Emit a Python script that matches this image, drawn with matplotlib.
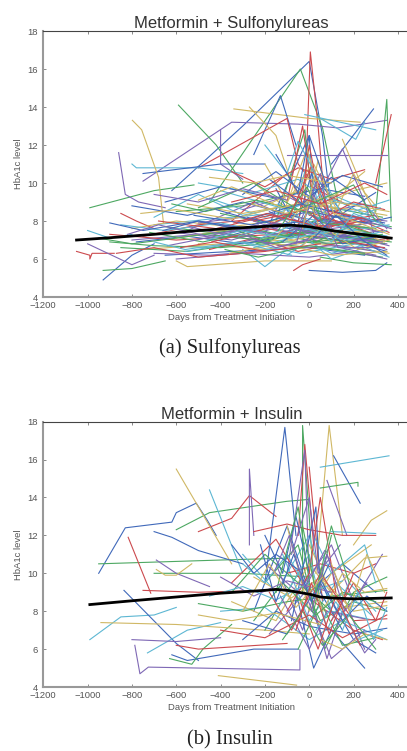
import matplotlib
matplotlib.use("Agg")
import matplotlib.pyplot as plt

# colours of the per-patient lines (seaborn-like palette)
line_colors = ['#4069BA', '#4DA862', '#CC4A4E', '#7F68B5', '#D0B865', '#5DB7D3']

# mean trend lines ------------------------------------------
su_mean_days = [-1050, -900, -700, -500, -300, -150, -80, 0, 100, 200, 300, 370]
su_mean_a1c  = [7.0, 7.12, 7.3, 7.5, 7.65, 7.75, 7.78, 7.7, 7.5, 7.35, 7.2, 7.1]

in_mean_days = [-990, -800, -600, -400, -200, -150, -100, -50, 0, 50, 100, 200, 370]
in_mean_a1c  = [8.35, 8.55, 8.75, 8.95, 9.1, 9.15, 9.1, 9.0, 8.9, 8.75, 8.7, 8.65, 8.7]

# individual patient trajectories: (day, HbA1c) ------------
su_lines = [
    [(-620, 9.6), (-300, 13.0), (0, 16.4), (60, 12.5), (100, 8.5)],
    [(-450, 9.0), (-40, 16.0), (60, 12.9), (130, 9.0)],
    [(-20, 9.0), (5, 16.9), (40, 13.0), (80, 7.5)],
    [(-750, 10.1), (-350, 13.2), (-50, 13.1), (130, 12.9), (350, 13.3)],
    [(-340, 13.9), (0, 13.4), (230, 13.2)],
    [(-20, 13.6), (300, 12.8)],
    [(-250, 11.5), (-130, 14.6), (-60, 12.0)],
    [(-590, 14.1), (-420, 12.0), (-300, 10.0)],
    [(-500, 10.8), (-100, 13.4), (-50, 11.0), (50, 9.5)],
    [(-400, 12.8), (-400, 11.0), (-300, 10.2)],
    [(-270, 14.0), (-150, 12.5), (-80, 10.0)],
    [(50, 13.4), (210, 12.3), (250, 13.2)],
    [(100, 11.0), (290, 13.9)],
    [(300, 8.5), (350, 14.4), (370, 8.0)],
    [(300, 10.0), (370, 13.6)],
    [(-100, 11.5), (350, 11.5)],
    [(150, 12.3), (250, 9.5), (300, 8.8)],
    [(-800, 11.0), (-780, 10.8), (-500, 10.8), (-300, 10.5)],
    [(-750, 10.5), (-400, 11.0), (-200, 11.0)],
    [(-990, 8.7), (-700, 9.6), (-520, 9.9)],
    [(-850, 8.4), (-780, 8.0), (-700, 7.6)],
    [(-860, 11.6), (-830, 9.4), (-770, 9.0), (-650, 8.7)],
    [(-798, 13.3), (-756, 12.8), (-680, 10.3), (-658, 7.9)],
    [(-1000, 7.5), (-900, 7.1), (-800, 7.3)],
    [(-930, 4.9), (-800, 6.2), (-700, 6.8)],
    [(-930, 5.4), (-800, 5.5), (-650, 5.9)],
    [(-1050, 6.4), (-990, 6.2), (-990, 6.0), (-980, 6.3), (-880, 6.3)],
    [(-1000, 6.8), (-800, 5.7), (-700, 6.2)],
    [(-600, 5.9), (-550, 5.6), (-200, 5.9), (100, 5.9)],
    [(-300, 6.5), (-200, 5.6), (-100, 6.5)],
    [(0, 5.4), (150, 5.3), (300, 5.4), (350, 5.8)],
    [(50, 6.1), (200, 5.8), (370, 5.7)],
    [(-70, 5.4), (-30, 5.7), (50, 6.0)],
    [(-800, 7.0), (-500, 7.3), (-200, 7.6), (100, 7.2), (350, 6.8)],
    [(-750, 6.5), (-400, 6.8), (-100, 7.0), (200, 6.6), (360, 6.3)],
    [(-700, 7.8), (-450, 8.1), (-150, 8.4), (50, 8.0), (300, 7.6)],
    [(-650, 6.2), (-350, 6.4), (0, 6.6), (250, 6.2)],
    [(-600, 8.5), (-300, 8.8), (-50, 9.5), (100, 8.7), (330, 8.2)],
    [(-900, 7.3), (-600, 7.0), (-300, 7.2), (0, 7.4), (340, 7.0)],
    [(-550, 7.5), (-250, 9.0), (-50, 8.0), (150, 7.3), (350, 6.5)],
    [(-500, 6.8), (-200, 6.5), (50, 7.0), (280, 6.7)],
    [(-450, 9.2), (-200, 8.2), (0, 9.0), (200, 8.5), (360, 9.1)],
    [(-400, 7.1), (-150, 7.9), (30, 7.3), (320, 7.0)],
    [(-850, 6.6), (-550, 6.4), (-250, 6.9), (100, 6.5), (330, 6.1)],
    [(-350, 8.0), (-100, 10.5), (0, 8.3), (200, 7.8)],
    [(-300, 6.9), (-100, 7.4), (80, 6.8), (300, 6.4)],
    [(-250, 10.0), (-80, 8.5), (20, 11.0), (150, 8.0), (300, 7.5)],
    [(-700, 8.2), (-500, 9.4), (-300, 8.3), (-100, 8.8), (100, 7.9)],
    [(-200, 7.3), (0, 12.5), (30, 7.5), (250, 7.0)],
    [(-150, 8.0), (-20, 12.8), (20, 8.2), (200, 7.7)],
    [(-100, 9.0), (-30, 13.0), (10, 9.8), (180, 8.8)],
    [(-600, 6.0), (-300, 6.3), (0, 6.1), (200, 6.4), (350, 6.0)],
    [(-800, 7.6), (-600, 8.0), (-350, 7.7), (-100, 8.1), (150, 7.4)],
    [(-500, 10.0), (-250, 9.5), (-50, 10.2), (100, 9.0), (300, 8.8)],
    [(-650, 9.0), (-400, 9.8), (-150, 9.2), (50, 9.7), (250, 9.3)],
    [(-350, 7.6), (-150, 6.8), (50, 7.8), (200, 7.1), (370, 6.9)],
    [(-450, 6.5), (-250, 7.1), (-50, 6.4), (150, 6.9), (340, 6.6)],
    [(-300, 8.6), (-100, 9.3), (50, 8.4), (250, 8.9), (350, 7.6)],
    [(-200, 11.0), (-100, 9.0), (0, 10.8), (100, 9.2), (250, 10.6)],
    [(-100, 7.0), (0, 11.5), (50, 8.0), (200, 7.5), (350, 7.2)],
    [(-50, 8.0), (10, 10.5), (80, 8.6), (300, 8.0)],
    [(-400, 8.4), (-200, 7.9), (0, 8.7), (150, 8.1), (370, 7.7)],
    [(-750, 7.2), (-500, 7.8), (-250, 8.1), (0, 7.6), (200, 7.9)],
    [(-600, 7.4), (-350, 7.0), (-100, 7.8), (150, 7.2), (330, 7.5)],
    [(-550, 8.9), (-300, 8.4), (-50, 8.9), (200, 8.6), (350, 8.3)],
    [(-250, 6.6), (-50, 7.2), (100, 6.3), (300, 6.9)],
    [(-150, 9.7), (-50, 7.5), (50, 10.0), (150, 8.4), (300, 9.5)],
    [(-900, 6.9), (-700, 6.7), (-400, 6.6), (-100, 6.9), (200, 6.8)],
    [(-350, 10.6), (-200, 9.8), (-50, 10.8), (100, 10.2), (250, 10.7)],
    [(-500, 7.9), (-300, 8.2), (-100, 7.4), (100, 8.3), (350, 8.0)],
    [(-200, 8.8), (-50, 9.6), (50, 8.8), (200, 9.6), (350, 10.0)],
    [(-100, 6.2), (0, 7.0), (100, 6.0), (250, 6.6)],
    [(-300, 9.4), (-150, 10.6), (0, 9.3), (150, 10.4), (330, 9.8)],
    [(-650, 7.7), (-450, 7.4), (-200, 7.1), (50, 7.5), (300, 7.3)],
    [(-50, 7.8), (0, 12.0), (50, 9.0), (150, 7.5)],
    [(-700, 6.3), (-450, 6.2), (-150, 6.5), (100, 6.7), (300, 6.2)],
    [(-120, 8.3), (-10, 11.8), (60, 8.9), (200, 8.2)],
    [(-400, 9.6), (-100, 8.6), (100, 9.4), (300, 8.4)],
    [(-800, 8.8), (-550, 8.3), (-300, 9.0), (-50, 8.2)],
    [(-150, 7.2), (20, 8.0), (120, 7.0), (340, 6.8)],
    [(-250, 8.0), (-80, 8.4), (70, 7.6), (220, 8.1), (360, 7.4)],
    [(50, 9.5), (150, 11.8), (250, 9.0), (300, 7.0)],
    [(-30, 10.0), (100, 8.0), (200, 10.5), (330, 7.8)],
    [(-850, 7.8), (-650, 7.5), (-400, 7.9), (-150, 7.3), (100, 7.8), (350, 7.2)],
    [(-780, 6.9), (-550, 7.2), (-300, 6.8), (-50, 7.3), (200, 6.9), (350, 6.4)],
    [(-720, 7.4), (-480, 6.9), (-220, 7.5), (30, 6.9), (280, 7.3)],
    [(-680, 8.0), (-420, 7.6), (-180, 8.3), (70, 7.7), (320, 8.1)],
    [(-640, 6.7), (-380, 7.3), (-120, 6.7), (120, 7.4), (360, 6.7)],
    [(-600, 7.1), (-330, 7.6), (-70, 7.0), (170, 7.6), (340, 6.9)],
    [(-560, 6.4), (-300, 6.9), (-40, 6.3), (210, 6.8), (360, 6.1)],
    [(-520, 8.3), (-260, 7.8), (0, 8.5), (250, 7.9), (370, 8.2)],
    [(-480, 7.3), (-220, 7.0), (40, 7.6), (290, 7.1)],
    [(-440, 6.9), (-190, 7.6), (60, 7.1), (300, 6.7)],
    [(-400, 7.8), (-160, 7.3), (90, 8.0), (330, 7.4)],
    [(-360, 6.3), (-140, 6.8), (110, 6.2), (350, 6.4)],
    [(-320, 7.2), (-110, 8.1), (130, 7.4), (360, 7.8)],
    [(-280, 8.2), (-90, 7.6), (150, 8.3), (340, 7.9)],
    [(-240, 6.8), (-70, 7.3), (170, 6.9), (330, 7.3)],
    [(-210, 7.6), (-40, 8.6), (180, 7.8), (360, 7.0)],
    [(-180, 8.5), (-20, 7.4), (200, 8.2), (370, 7.6)],
    [(-160, 7.0), (0, 9.2), (60, 7.2), (250, 7.5)],
    [(-140, 8.9), (10, 7.8), (120, 9.1), (300, 8.1)],
    [(-120, 6.9), (20, 8.3), (150, 6.8), (310, 7.2)],
    [(-100, 7.9), (30, 6.9), (180, 7.7), (350, 7.1)],
    [(-80, 9.3), (40, 8.0), (200, 9.0), (340, 8.6)],
    [(-60, 7.4), (50, 10.5), (100, 7.6), (280, 7.9)],
    [(-40, 6.6), (60, 7.7), (220, 6.5), (360, 7.0)],
    [(-20, 8.4), (80, 9.9), (160, 8.0), (320, 8.7)],
    [(-900, 7.9), (-750, 7.5), (-500, 8.0), (-250, 7.4)],
    [(-950, 7.1), (-800, 6.8), (-600, 7.1), (-350, 7.5)],
    [(-870, 6.3), (-700, 6.6), (-500, 6.1), (-200, 6.4)],
    [(-820, 7.3), (-680, 7.8), (-460, 7.2), (-230, 7.8)],
    [(-760, 8.4), (-600, 8.6), (-350, 8.1), (-150, 8.7)],
    [(-700, 6.9), (-560, 6.5), (-320, 6.9), (-80, 6.2)],
    [(-660, 7.5), (-500, 8.0), (-280, 7.6), (-20, 8.0)],
    [(-620, 8.9), (-470, 8.5), (-240, 9.1), (10, 8.4)],
    [(-580, 6.6), (-430, 6.9), (-200, 6.4), (50, 6.8)],
    [(-540, 7.7), (-390, 7.3), (-160, 7.9), (90, 7.2)],
    [(-500, 9.1), (-350, 9.8), (-120, 8.7), (130, 9.4)],
    [(-460, 7.0), (-310, 7.5), (-80, 7.1), (170, 7.6)],
    [(-420, 8.6), (-270, 8.1), (-40, 8.9), (210, 8.2)],
    [(-380, 6.5), (-230, 6.1), (0, 6.7), (250, 6.3)],
    [(-340, 7.9), (-190, 8.4), (40, 7.7), (290, 8.3)],
    [(-300, 7.3), (-150, 6.6), (80, 7.2), (330, 6.9)],
    [(-260, 8.9), (-110, 8.4), (120, 9.0), (360, 8.5)],
    [(-220, 7.1), (-70, 7.8), (160, 7.0), (350, 7.5)],
    [(-180, 10.2), (-30, 8.9), (100, 10.3), (250, 9.1)],
    [(-140, 7.5), (-10, 9.8), (60, 7.9), (300, 7.6)],
    [(-90, 8.2), (10, 10.9), (90, 8.5), (260, 8.1)],
    [(-60, 6.8), (20, 9.4), (130, 6.6), (320, 6.6)],
    [(-30, 7.6), (40, 11.2), (110, 8.4), (360, 7.3)],
    [(0, 8.0), (100, 6.9), (200, 8.4), (360, 7.7)],
    [(20, 7.1), (120, 8.3), (240, 7.0), (350, 6.2)],
    [(-500, 8.7), (-250, 10.0), (-50, 8.6), (200, 9.9), (300, 8.0)],
    [(-350, 9.0), (-150, 9.6), (50, 8.9), (250, 10.0), (350, 9.4)],
    [(-700, 9.4), (-500, 9.0), (-300, 9.7), (-100, 9.1)],
    [(-450, 10.3), (-250, 10.0), (-100, 10.4), (100, 10.0)],
    [(-200, 12.0), (-100, 10.5), (-50, 12.2), (50, 10.0)],
    [(-150, 11.5), (-50, 9.5), (0, 12.5), (80, 9.8)],
]

in_lines = [
    [(-950, 10.0), (-830, 12.4), (-620, 12.7), (-600, 13.2), (-510, 13.7), (-460, 12.8), (-420, 12.0)],
    [(-950, 10.5), (-400, 10.7), (-100, 10.8)],
    [(-817, 11.9), (-715, 8.95)],
    [(-787, 6.2), (-764, 4.7), (-726, 5.05), (-42, 4.9), (-42, 5.96)],
    [(-410, 4.6), (-57, 4.1)],
    [(-990, 6.5), (-850, 7.7), (-700, 7.8), (-600, 8.2)],
    [(-836, 9.1), (-600, 6.3), (-500, 5.4)],
    [(-600, 12.3), (-450, 13.2), (-100, 13.8), (0, 13.9)],
    [(-500, 12.2), (-350, 12.9), (-270, 14.1), (-150, 13.0)],
    [(-270, 11.5), (-270, 15.5), (-250, 12.0)],
    [(-600, 15.5), (-450, 12.5), (-350, 10.5)],
    [(-450, 14.4), (-300, 10.0)],
    [(-200, 9.5), (-110, 17.7), (-60, 12.0)],
    [(-30, 9.0), (-30, 17.8), (0, 13.0), (20, 9.5)],
    [(-50, 12.0), (-20, 16.8), (20, 11.5)],
    [(-100, 10.0), (-20, 16.5), (0, 9.5)],
    [(30, 10.0), (90, 17.8), (150, 12.0)],
    [(50, 15.6), (360, 16.2)],
    [(110, 16.2), (230, 13.7)],
    [(50, 14.5), (220, 14.8), (220, 14.6)],
    [(0, 15.6), (30, 12.0), (60, 8.5)],
    [(80, 14.9), (170, 12.0)],
    [(200, 11.5), (280, 12.8), (350, 13.3)],
    [(100, 12.2), (300, 12.1)],
    [(-700, 12.2), (-620, 11.9), (-500, 11.2), (-300, 10.5)],
    [(-700, 10.0), (-300, 10.0), (0, 9.8)],
    [(-750, 9.1), (-500, 9.0), (-200, 9.1)],
    [(-690, 10.7), (-600, 10.0), (-450, 9.3)],
    [(-690, 10.2), (-650, 9.9), (-600, 9.9), (-530, 10.5)],
    [(-730, 5.8), (-550, 7.0), (-400, 7.4)],
    [(-620, 5.7), (-550, 5.4), (-450, 5.6), (-250, 6.0), (-50, 6.0)],
    [(-630, 5.5), (-530, 5.2), (-480, 6.0), (-350, 7.3)],
    [(-600, 6.2), (-500, 6.0), (-100, 6.3)],
    [(-800, 6.5), (-600, 6.4), (-400, 6.6)],
    [(-940, 7.4), (-600, 7.3), (-200, 7.0), (0, 6.8)],
    [(-300, 11.0), (-150, 9.0), (0, 12.0), (100, 8.0), (300, 7.5)],
    [(-250, 8.0), (-100, 12.5), (0, 9.0), (150, 10.5), (300, 9.0)],
    [(-200, 7.0), (-50, 10.0), (50, 7.5), (200, 8.5), (350, 8.0)],
    [(-350, 9.5), (-150, 11.8), (20, 8.5), (200, 7.0), (330, 6.5)],
    [(-150, 10.5), (-30, 7.0), (80, 11.0), (250, 6.0)],
    [(-100, 12.5), (0, 8.0), (100, 10.0), (280, 11.5)],
    [(-400, 8.0), (-200, 8.2), (0, 6.5), (150, 7.5), (350, 6.5)],
    [(-300, 7.5), (-100, 6.8), (50, 9.5), (200, 6.5), (300, 5.8)],
    [(-200, 9.5), (-50, 11.5), (70, 6.0), (200, 9.0), (350, 9.8)],
    [(-250, 12.2), (-100, 12.6), (0, 12.3), (150, 12.0), (300, 12.0)],
    [(-180, 6.8), (-20, 9.0), (100, 5.5), (250, 7.0)],
    [(-350, 8.5), (-150, 7.5), (0, 10.5), (150, 8.2), (350, 8.5)],
    [(-120, 11.0), (0, 7.5), (120, 9.5), (280, 7.8)],
    [(-60, 9.0), (20, 5.0), (100, 7.0), (250, 5.0)],
    [(-500, 8.4), (-300, 8.0), (-100, 8.5), (100, 8.8), (350, 9.1)],
    [(-100, 10.0), (50, 10.5), (200, 10.0), (300, 10.5)],
    [(-200, 10.5), (-50, 9.0), (100, 11.5), (200, 8.5), (330, 11.0)],
    [(0, 11.5), (100, 9.0), (250, 10.8), (350, 10.9)],
    [(-150, 8.0), (0, 11.0), (80, 7.0), (180, 9.5), (300, 8.0)],
    [(-300, 6.5), (-150, 8.0), (0, 7.2), (200, 6.8), (350, 7.1)],
    [(-50, 6.0), (50, 8.5), (150, 6.2), (300, 6.6)],
    [(-400, 7.0), (-200, 6.6), (0, 7.8), (150, 6.6), (350, 7.8)],
    [(0, 9.0), (80, 5.5), (150, 8.0), (250, 5.8), (300, 6.5)],
    [(-250, 9.8), (-80, 8.7), (50, 9.8), (200, 8.0), (350, 8.3)],
    [(20, 12.0), (100, 10.0), (250, 11.5), (300, 9.5)],
    [(-80, 7.5), (30, 13.5), (50, 9.0), (150, 7.0)],
    [(-350, 9.0), (-200, 11.0), (-50, 9.5), (100, 8.0)],
    [(100, 7.5), (200, 9.5), (300, 7.5), (350, 9.0)],
    [(-130, 8.8), (0, 6.0), (80, 8.0), (250, 7.6)],
    [(50, 6.5), (150, 6.0), (250, 6.8), (350, 6.5)],
    [(-300, 10.5), (-200, 9.5), (-100, 11.0), (0, 9.0), (150, 9.6)],
    [(-200, 12.0), (-120, 10.0), (-60, 13.0), (0, 10.0)],
    [(-150, 9.0), (-50, 13.5), (20, 8.0), (100, 12.0)],
    [(-100, 8.0), (0, 10.0), (50, 14.0), (120, 9.0)],
    [(-80, 11.0), (0, 14.0), (40, 10.0), (140, 11.5)],
    [(0, 10.5), (60, 8.0), (150, 10.0), (250, 9.0), (350, 9.2)],
    [(30, 7.0), (120, 8.5), (220, 6.5), (330, 7.0)],
    [(60, 9.5), (150, 7.5), (260, 8.8), (350, 8.0)],
    [(-250, 7.5), (-120, 9.5), (30, 7.8), (150, 9.0), (300, 8.5)],
    [(-180, 9.0), (-80, 7.0), (50, 10.0), (200, 7.5), (350, 7.6)],
    [(-400, 9.8), (-250, 8.8), (-100, 9.6), (100, 9.0)],
    [(-500, 7.8), (-350, 7.5), (-150, 7.9), (50, 7.3)],
    [(-450, 8.8), (-300, 9.3), (-150, 8.6), (0, 9.5)],
    [(-350, 11.5), (-250, 10.0), (-150, 11.0), (-50, 10.2)],
    [(-120, 6.5), (-30, 8.0), (60, 6.2), (180, 7.8), (300, 6.0)],
    [(-60, 7.0), (10, 9.5), (90, 6.8), (200, 10.0)],
    [(10, 8.0), (80, 11.0), (160, 8.0), (260, 9.5)],
    [(100, 10.5), (180, 8.0), (260, 11.0), (340, 9.0)],
    [(150, 7.0), (220, 9.0), (290, 6.5), (350, 8.2)],
    [(-220, 11.5), (-150, 8.5), (-70, 11.0), (10, 8.5), (90, 10.5)],
    [(-30, 12.5), (30, 9.0), (100, 12.5), (180, 9.5)],
    [(-40, 8.5), (40, 6.0), (120, 8.8), (230, 6.2)],
    [(-160, 10.0), (-90, 12.0), (-20, 9.2), (70, 11.2)],
    [(-300, 8.0), (-180, 10.5), (-60, 8.2), (60, 9.8)],
]

titles   = ['Metformin + Sulfonylureas', 'Metformin + Insulin']
captions = ['(a) Sulfonylureas', '(b) Insulin']
x_ticks  = [-1200, -1000, -800, -600, -400, -200, 0, 200, 400]
y_ticks  = [4, 6, 8, 10, 12, 14, 16, 18]

plt.rcParams['font.family'] = ['Liberation Sans', 'DejaVu Sans']

fig = plt.figure(figsize=(4.07, 7.51), dpi=100)
ax_top = fig.add_axes([0.1064, 0.6045, 0.9256, 0.3542])
ax_bot = fig.add_axes([0.1064, 0.0852, 0.9256, 0.3533])

panels = [(ax_top, su_lines, su_mean_days, su_mean_a1c),
          (ax_bot, in_lines, in_mean_days, in_mean_a1c)]

for k, (ax, lines, mdays, ma1c) in enumerate(panels):
    for i, ln in enumerate(lines):
        xs = [p[0] for p in ln]
        ys = [p[1] for p in ln]
        ax.plot(xs, ys, color=line_colors[i % len(line_colors)], linewidth=0.8)
    ax.plot(mdays, ma1c, color='black', linewidth=2.0, zorder=10)

    ax.set_xlim(-1200, 500)
    ax.set_ylim(4, 18)
    ax.set_xticks(x_ticks)
    ax.set_yticks(y_ticks)
    ax.set_xticklabels(['\u2212%d' % -t if t < 0 else '%d' % t for t in x_ticks])
    ax.tick_params(direction='in', length=2, width=0.6, color='#777777',
                   labelsize=6.8, labelcolor='#555555', top=True)
    ax.tick_params(axis='x', pad=3)
    ax.tick_params(axis='y', pad=4)
    for s in ['left', 'bottom']:
        ax.spines[s].set_color('#999999')
        ax.spines[s].set_linewidth(1.5)
    ax.spines['top'].set_color('#444444')
    ax.spines['top'].set_linewidth(0.8)
    ax.spines['right'].set_visible(False)

    ax.set_title(titles[k], fontsize=12, color='#333333', pad=2)
    ax.set_xlabel('Days from Treatment Initiation', fontsize=6.8, color='#555555', labelpad=2)
    ax.set_ylabel('HbA1c level', fontsize=6.8, color='#555555', labelpad=3)

fig.text(0.565, 1 - 348 / 751, captions[0], ha='center', va='center',
         fontsize=14.8, family=['Liberation Serif', 'DejaVu Serif'], color='#222222')
fig.text(0.565, 1 - 740 / 751, captions[1], ha='center', va='center',
         fontsize=14.8, family=['Liberation Serif', 'DejaVu Serif'], color='#222222')

fig.savefig('out.png', dpi=100)
